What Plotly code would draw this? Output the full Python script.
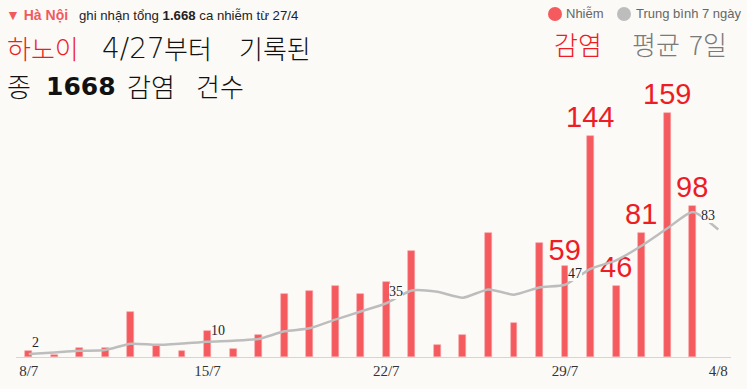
import pandas as pd
import plotly.graph_objects as go

# ---------------- data ----------------
dates = pd.date_range("2021-07-08", "2021-08-04", freq="D")
cases = [4, 1, 6, 6, 29, 7, 4, 17, 5, 14, 41, 43, 46, 41, 49, 69, 8, 14,
         81, 22, 74, 59, 144, 46, 81, 159, 98, None]
avg7 = [2, 3, 4, 4.6, 8.6, 7.9, 8.8, 10, 10.6, 11.7, 16.7, 18.7, 24.3, 29.6,
        35, 43.3, 42.4, 38.6, 44, 40.6, 45.3, 47, 57.4, 62.9, 72.4, 83.6, 94.4, 83]
bar_label_days = ["2021-07-29", "2021-07-30", "2021-07-31",
                  "2021-08-01", "2021-08-02", "2021-08-03"]
avg_label_days = ["2021-07-08", "2021-07-15", "2021-07-22", "2021-07-29"]
avg_label_last = "2021-08-04"
tick_days = ["2021-07-08", "2021-07-15", "2021-07-22", "2021-07-29", "2021-08-04"]
tick_text = ["8/7", "15/7", "22/7", "29/7", "4/8"]

BG = "#fbfaf7"
RED_BAR = "#f45a5e"
RED_TXT = "#ee1c25"
GRAY_LINE = "#bdbdbd"

day_keys = [d.strftime("%Y-%m-%d") for d in dates]
bar_text = [str(v) if (k in bar_label_days and v is not None) else ""
            for k, v in zip(day_keys, cases)]

fig = go.Figure()
fig.add_trace(go.Bar(
    x=dates, y=cases, width=0.27 * 86400000,
    marker=dict(color=RED_BAR, line=dict(color="#f7a3a5", width=0.6)),
    text=bar_text, textposition="outside", constraintext="none",
    cliponaxis=False,
    textfont=dict(family="Liberation Sans, Arial", size=29, color=RED_TXT),
    name="Nhiễm", showlegend=False, hoverinfo="x+y"))
fig.add_trace(go.Scatter(
    x=dates, y=avg7, mode="lines",
    line=dict(color=GRAY_LINE, width=2.5, shape="spline", smoothing=0.6),
    name="Trung bình 7 ngày", showlegend=False, hoverinfo="x+y"))

# labels on the average line
SERIF = "Liberation Serif, DejaVu Serif"
annots = []
for k, v in zip(day_keys, avg7):
    if k in avg_label_days or k == avg_label_last:
        last = (k == avg_label_last)
        annots.append(dict(x=k, y=v, xref="x", yref="y", text=str(round(v)),
                           showarrow=False,
                           xanchor="right" if last else "left", yanchor="bottom",
                           xshift=-3 if last else 3, yshift=6 if last else 4,
                           bgcolor=BG, borderpad=0, borderwidth=0,
                           font=dict(family=SERIF, size=14, color="#1d2433")))

# plot area in pixels: x 16..731, y 80..357
def px(x):
    return (x - 16) / 715.0

def py(y):
    return (357 - y) / 277.0

def txt(text, x, y, family, size, color, anchor="left", weight=None):
    f = dict(family=family, size=size, color=color)
    if weight is not None:
        f["weight"] = weight
    return dict(x=px(x), y=py(y), xref="paper", yref="paper", xanchor=anchor,
                yanchor="middle", showarrow=False, text=text, borderpad=0,
                borderwidth=0, font=f)

KR = "Noto Sans CJK KR"
SANS = "Liberation Sans, Arial"
DIG = "DejaVu Sans"
annots += [
    txt("▼ <b>Hà Nội</b>", 6, 15, SANS, 14, "#f05a5e"),
    txt("ghi nhận tổng <b>1.668</b> ca nhiễm từ 27/4", 79, 15, SANS, 13.2, "#222222"),
    # line 2
    txt("하노이", 7, 48, KR, 26, RED_TXT, weight=300),
    txt("4/27", 102, 49, DIG, 28, "#111111", weight=300),
    txt("부터", 164, 48, KR, 26, "#111111", weight=300),
    txt("기록된", 239, 48, KR, 26, "#111111", weight=300),
    # line 3
    txt("종", 7, 85, KR, 26, "#111111", weight=300),
    txt("<b>1668</b>", 46, 86, DIG, 25, "#111111"),
    txt("감염", 127, 85, KR, 26, "#111111", weight=300),
    txt("건수", 196, 85, KR, 26, "#111111", weight=300),
    # right titles
    txt("감염", 554, 43, KR, 26, RED_TXT, weight=300),
    txt("평균", 632, 43, KR, 26, "#7a7a7a", weight=300),
    txt("7일", 689, 43, KR, 26, "#7a7a7a", weight=300),
    # legend texts
    txt("Nhiễm", 566, 14, SANS, 13, "#666666"),
    txt("Trung bình 7 ngày", 636, 14, SANS, 13, "#666666"),
]

shapes = [
    dict(type="circle", xref="paper", yref="paper", x0=px(548), x1=px(562),
         y0=py(21), y1=py(7), fillcolor=RED_BAR, line=dict(width=0)),
    dict(type="circle", xref="paper", yref="paper", x0=px(617), x1=px(631),
         y0=py(21), y1=py(7), fillcolor="#bdbdbd", line=dict(width=0)),
]

fig.update_layout(
    width=747, height=389,
    margin=dict(l=16, r=16, t=80, b=32, autoexpand=False),
    paper_bgcolor=BG, plot_bgcolor=BG,
    annotations=annots, shapes=shapes,
    bargap=0,
    xaxis=dict(type="date",
               range=["2021-07-07 12:00", "2021-08-04 12:00"],
               tickvals=tick_days, ticktext=tick_text,
               tickfont=dict(family=SERIF, size=15, color="#333333"),
               showgrid=False, zeroline=False, showline=True, automargin=False,
               linecolor="#ccd6eb", linewidth=1, ticks="", fixedrange=True),
    yaxis=dict(range=[0, 180.3], visible=False, showgrid=False, zeroline=False,
               fixedrange=True),
)

fig.write_html("out.html", config={"displayModeBar": False},
               post_script="document.body.style.margin='0px';document.body.style.background='%s';" % BG)
